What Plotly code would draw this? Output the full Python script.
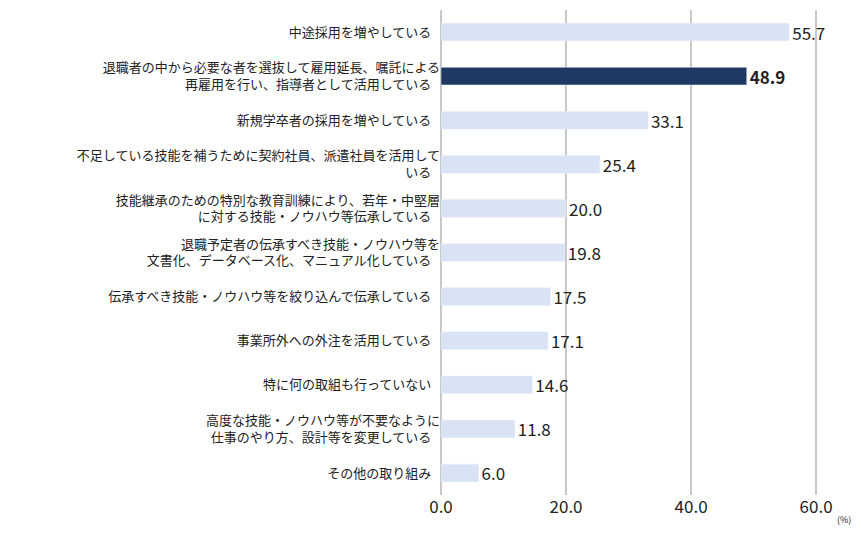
import plotly.graph_objects as go

categories = ["中途採用を増やしている",
"退職者の中から必要な者を選抜して雇用延長、嘱託による<br>再雇用を行い、指導者として活用している",
"新規学卒者の採用を増やしている",
"不足している技能を補うために契約社員、派遣社員を活用して<br>いる",
"技能継承のための特別な教育訓練により、若年・中堅層<br>に対する技能・ノウハウ等伝承している",
"退職予定者の伝承すべき技能・ノウハウ等を<br>文書化、データベース化、マニュアル化している",
"伝承すべき技能・ノウハウ等を絞り込んで伝承している",
"事業所外への外注を活用している",
"特に何の取組も行っていない",
"高度な技能・ノウハウ等が不要なように<br>仕事のやり方、設計等を変更している",
"その他の取り組み"]
values = [55.7, 48.9, 33.1, 25.4, 20.0, 19.8, 17.5, 17.1, 14.6, 11.8, 6.0]
highlight = 1
tick_vals = [0, 20, 40, 60]
tick_text = ["0.0", "20.0", "40.0", "60.0"]

colors = ["#1f3864" if i == highlight else "#dae3f3" for i in range(len(values))]
texts = [f"<b>{v:.1f}</b>" if i == highlight else f"{v:.1f}" for i, v in enumerate(values)]

fig = go.Figure(go.Bar(
    y=categories, x=values, orientation="h", marker_color=colors,
    text=texts, textposition="outside", cliponaxis=False, constraintext="none",
    textfont=dict(size=17, color="#222"), width=0.4))
fig.update_layout(
    width=865, height=540, margin=dict(l=433, r=10, t=2, b=53),
    plot_bgcolor="white", paper_bgcolor="white", showlegend=False,
    font=dict(family="Noto Sans CJK JP", size=13, color="#222"),
    yaxis=dict(autorange="reversed", ticks="", ticksuffix="   "),
    xaxis=dict(range=[0, 67.5], tickvals=tick_vals, ticktext=tick_text,
               showgrid=True, gridcolor="#c8c8c8", gridwidth=1.5,
               tickfont=dict(size=17), zeroline=True, zerolinecolor="#c8c8c8"),
)
fig.add_annotation(x=60, y=0, xref="x", yref="paper", yshift=-33, xshift=28,
                   text="(%)", showarrow=False, font=dict(size=9))
fig.write_html("out.html")
